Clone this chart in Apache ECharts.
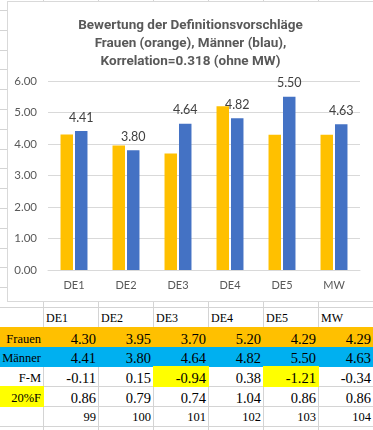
<!DOCTYPE html>
<html><head><meta charset="utf-8">
<script src="https://cdn.jsdelivr.net/npm/echarts@6/dist/echarts.min.js"></script>
<style>
html,body{margin:0;padding:0;width:373px;height:430px;overflow:hidden;background:#fff;}
#sheet{position:absolute;left:0;top:0;width:373px;height:430px;overflow:hidden;}
.gl{position:absolute;background:#D4D4D4;}
.fill{position:absolute;}
.cell{position:absolute;display:flex;align-items:flex-end;box-sizing:border-box;font-family:"Liberation Serif","Times New Roman",serif;color:#000;line-height:1;white-space:nowrap;overflow:visible;}
#frame{position:absolute;left:7px;top:1px;width:380px;height:301px;box-sizing:border-box;border:1px solid #D9D9D9;background:#fff;}
#chart{position:absolute;left:0;top:0;width:365px;height:299px;}
</style></head><body>
<div id="sheet"></div>
<div id="frame"><div id="chart"></div></div>
<script>
// ---- data ----
const categories = ['DE1', 'DE2', 'DE3', 'DE4', 'DE5', 'MW'];
const frauen = [4.30, 3.95, 3.70, 5.20, 4.29, 4.29];
const maenner = [4.41, 3.80, 4.64, 4.82, 5.50, 4.63];
const fMinusM = [-0.11, 0.15, -0.94, 0.38, -1.21, -0.34];
const zwanzigProzentF = [0.86, 0.79, 0.74, 1.04, 0.86, 0.86];
const rowNumbers = [99, 100, 101, 102, 103, 104];
const rowLabels = ['Frauen', 'Männer', 'F-M', '20%F'];
const titleLines = ['Bewertung der Definitionsvorschläge', 'Frauen (orange), Männer (blau),', 'Korrelation=0.318 (ohne MW)'];
const yMin = 0, yMax = 6, yStep = 1;

// ---- spreadsheet background ----
const sheet = document.getElementById('sheet');
const colEdges = [0, 43, 98, 153, 208, 263, 318, 373];
const rowY = k => Math.round(10 + 19.8 * k);
function el(cls, l, t, w, h, bg) {
  const d = document.createElement('div');
  d.className = cls;
  d.style.left = l + 'px'; d.style.top = t + 'px';
  d.style.width = w + 'px'; d.style.height = h + 'px';
  if (bg) d.style.background = bg;
  sheet.appendChild(d);
  return d;
}
for (let i = 1; i < colEdges.length - 1; i++) el('gl', colEdges[i], 0, 1, 430);
for (let k = 0; k <= 21; k++) el('gl', 0, rowY(k), 373, 1);

function fill(k, c0, c1, color) {
  const x0 = colEdges[c0], x1 = colEdges[c1 + 1];
  const y0 = rowY(k), y1 = rowY(k + 1);
  el('fill', x0, y0, x1 - x0 + 1, y1 - y0 + 1, color);
}
function cell(k, c, text, align, size, pb) {
  const x0 = colEdges[c], x1 = colEdges[c + 1];
  const y0 = rowY(k), y1 = rowY(k + 1);
  const d = el('cell', x0 + 1, y0 + 1, x1 - x0 - 1, y1 - y0 - 1);
  d.style.justifyContent = align === 'left' ? 'flex-start' : 'flex-end';
  d.style.padding = align === 'left' ? '0 0 ' + pb + 'px 2px' : '0 2px ' + pb + 'px 0';
  d.style.fontSize = size + 'px';
  d.textContent = text;
}
const K0 = 15;
// fills
fill(K0 + 1, 0, 6, '#FFC000');
fill(K0 + 2, 0, 6, '#00B0F0');
fill(K0 + 4, 0, 0, '#FFFF00');
fMinusM.forEach((v, i) => { if (Math.abs(v) > zwanzigProzentF[i]) fill(K0 + 3, i + 1, i + 1, '#FFFF00'); });
// texts
categories.forEach((c, i) => cell(K0, i + 1, c, 'left', 12, 3));
rowLabels.forEach((t, r) => cell(K0 + 1 + r, 0, t, 'right', 12.5, 2));
[frauen, maenner, fMinusM, zwanzigProzentF].forEach((arr, r) => {
  arr.forEach((v, i) => cell(K0 + 1 + r, i + 1, v.toFixed(2), 'right', 14.5, 1));
});
rowNumbers.forEach((v, i) => cell(K0 + 5, i + 1, String(v), 'right', 12.5, 3));

// ---- chart ----
const chart = echarts.init(document.getElementById('chart'), null, { renderer: 'canvas' });
chart.setOption({
  animation: false,
  title: {
    text: titleLines.join('\n'), left: 'center', top: 10,
    textStyle: { fontFamily: 'Roboto', fontWeight: 'bold', fontSize: 13.5, color: '#595959', lineHeight: 18 }
  },
  grid: { left: 40, right: 13, top: 79, bottom: 31 },
  xAxis: {
    type: 'category', data: categories,
    axisLine: { lineStyle: { color: '#D9D9D9' } },
    axisTick: { show: false },
    axisLabel: { color: '#595959', fontFamily: 'Lato', fontSize: 11, margin: 10 }
  },
  yAxis: {
    type: 'value', min: yMin, max: yMax, interval: yStep,
    axisLine: { show: false }, axisTick: { show: false },
    axisLabel: { formatter: v => v.toFixed(2), color: '#595959', fontFamily: 'Lato', fontSize: 11.5, margin: 11 },
    splitLine: { lineStyle: { color: '#D9D9D9' } }
  },
  series: [
    { name: 'Frauen', type: 'bar', data: frauen, barWidth: '24%', barGap: '16%', itemStyle: { color: '#FFC000' } },
    { name: 'Männer', type: 'bar', data: maenner, barWidth: '24%', barGap: '16%', itemStyle: { color: '#4472C4' },
      label: { show: true, position: 'top', distance: 7, formatter: p => p.value.toFixed(2), color: '#404040', fontFamily: 'Lato', fontSize: 12.5 } }
  ]
});
</script>
</body></html>
